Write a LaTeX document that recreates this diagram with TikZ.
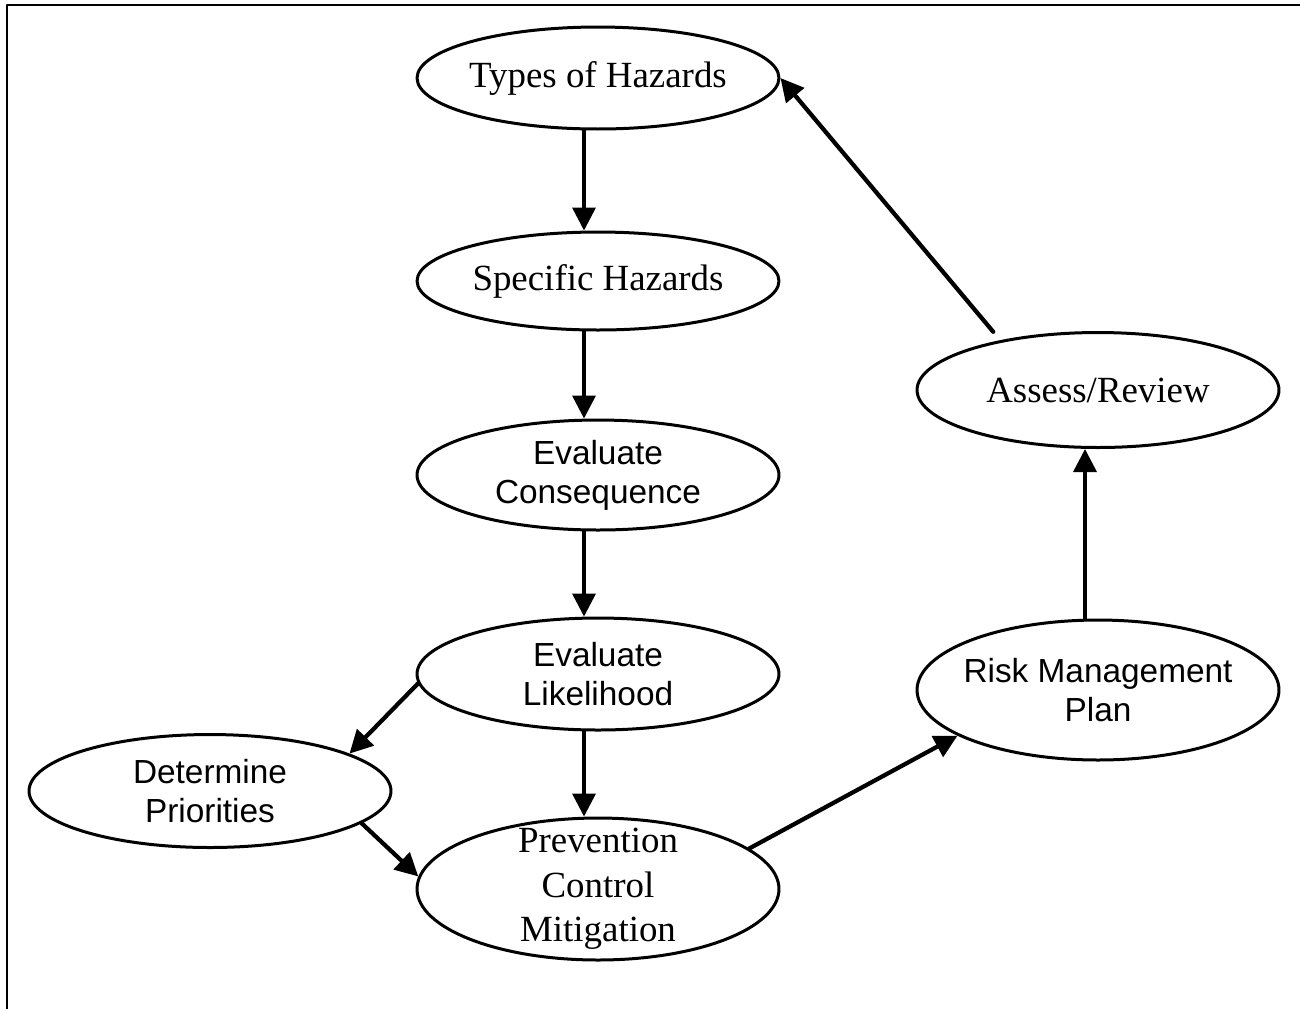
\documentclass[tikz,border=0pt]{standalone}
\usepackage{fontspec}
\setmainfont{Liberation Serif}
\newfontfamily\arialfont{Liberation Sans}
\usetikzlibrary{arrows.meta,shapes.geometric}

\begin{document}
\begin{tikzpicture}[x=0.02cm,y=-0.02cm,line cap=round,line join=round,
   stage/.style={ellipse,draw,line width=0.06cm,minimum width=7.24cm,inner sep=-0.5cm,align=center},
   serif/.style={font=\fontsize{21}{25.2}\selectfont},
   sans/.style={font=\arialfont\fontsize{19}{22.2}\selectfont},
   flow/.style={line width=0.07cm,-{Triangle[length=0.46cm,width=0.46cm]}},
   slant/.style={flow,line width=0.085cm}]
\def\off{-0.28cm} % the down arrows sit a bit left of the centres
\useasboundingbox (0,0) rectangle (1300,1009);
% frame, only top and left edges show
\draw[line width=0.04cm,line cap=butt] (7,1009) -- (7,5) -- (1300,5);
% middle column
\node[stage,serif,minimum height=2.04cm] (types)   at (598,78)  {Types of Hazards};
\node[stage,serif,minimum height=1.96cm] (spec)    at (598,281) {Specific Hazards};
\node[stage,sans, minimum height=2.2cm]  (conseq)  at (598,475) {Evaluate\\Consequence};
\node[stage,sans, minimum height=2.24cm] (likely)  at (598,674) {Evaluate\\Likelihood};
\node[stage,serif,minimum height=2.84cm] (prevent) at (598,889) {Prevention\\Control\\Mitigation};
% left and right
\node[stage,sans, minimum height=2.26cm] (prio)    at (210,791)  {Determine\\Priorities};
\node[stage,sans, minimum height=2.8cm]  (risk)    at (1098,690) {Risk Management\\Plan};
\node[stage,serif,minimum height=2.3cm]  (assess)  at (1098,390) {Assess/Review};
% arrows
\draw[flow] ([xshift=\off]types.south)  -- ([xshift=\off]spec.north);
\draw[flow] ([xshift=\off]spec.south)   -- ([xshift=\off]conseq.north);
\draw[flow] ([xshift=\off]conseq.south) -- ([xshift=\off]likely.north);
\draw[flow] ([xshift=\off]likely.south) -- ([xshift=\off]prevent.north);
\draw[slant] (likely.183) -- (prio.15);
\draw[slant] (prio.-12) -- (prevent.176);
\draw[slant] (prevent.15) -- (risk.198);
\draw[flow] ([xshift=-0.26cm]risk.north) -- ([xshift=-0.26cm]assess.south);
\draw[slant,shorten <=0.22cm] (assess.153) -- (types.east);
\end{tikzpicture}
\end{document}
